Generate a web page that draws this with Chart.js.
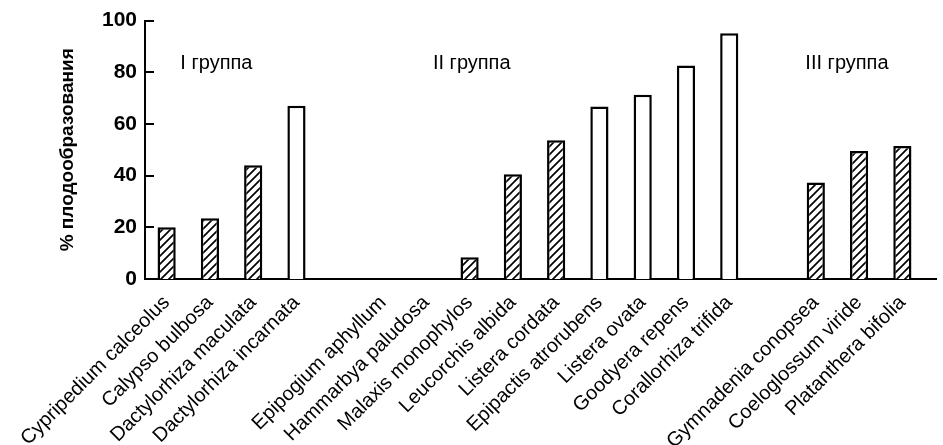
<!DOCTYPE html>
<html><head><meta charset="utf-8">
<style>html,body{margin:0;padding:0;background:#fff;overflow:hidden}#wrap{width:943px;height:445px;position:relative}</style>
<script src="https://cdn.jsdelivr.net/npm/chart.js@4.4.1/dist/chart.umd.min.js"></script>
</head><body><div id="wrap"><canvas id="c"></canvas></div>
<script>
const categories = ["Cypripedium calceolus","Calypso bulbosa","Dactylorhiza maculata","Dactylorhiza incarnata","",
  "Epipogium aphyllum","Hammarbya paludosa","Malaxis monophylos","Leucorchis albida","Listera cordata",
  "Epipactis atrorubens","Listera ovata","Goodyera repens","Corallorhiza trifida","",
  "Gymnadenia conopsea","Coeloglossum viride","Platanthera bifolia"];
const fruitSet = [20, 23.5, 44, 67, null, 0, 0, 8.4, 40.5, 53.7, 66.8, 71.3, 82.6, 95.1, null, 37.3, 49.5, 51.5];
const hatched = [true, true, true, false, false, false, false, true, true, true, false, false, false, false, false, true, true, true];
const yTicks = [0, 20, 40, 60, 80, 100];
const groupLabels = ["I группа", "II группа", "III группа"];
const yTitle = "% плодообразования";

const FONT = "'Liberation Sans', Arial, Helvetica, sans-serif";
Chart.defaults.font.family = FONT;
Chart.defaults.color = '#000';

function makeHatch() {
  const s = 8, c = document.createElement('canvas');
  c.width = s; c.height = s;
  const g = c.getContext('2d');
  g.fillStyle = '#fff'; g.fillRect(0, 0, s, s);
  g.strokeStyle = '#000'; g.lineWidth = 1.7; g.lineCap = 'square';
  g.beginPath();
  g.moveTo(-1, s + 1); g.lineTo(s + 1, -1);
  g.moveTo(-1, 1); g.lineTo(1, -1);
  g.moveTo(s - 1, s + 1); g.lineTo(s + 1, s - 1);
  g.stroke();
  return g.createPattern(c, 'repeat');
}
const hatch = makeHatch();
const fills = hatched.map(h => h ? hatch : '#fff');

const decor = {
  id: 'decor',
  afterDraw(chart) {
    const {ctx, chartArea, scales: {x, y}} = chart;
    ctx.save();
    ctx.strokeStyle = '#000';
    ctx.lineWidth = 2;
    // inward y ticks
    yTicks.forEach(v => {
      const py = Math.round(y.getPixelForValue(v));
      ctx.beginPath();
      ctx.moveTo(chartArea.left, py);
      ctx.lineTo(chartArea.left + 9, py);
      ctx.stroke();
    });
    // baseline continues slightly past last slot
    const by = y.getPixelForValue(0);
    ctx.beginPath();
    ctx.moveTo(chartArea.right - 1, by);
    ctx.lineTo(chartArea.right + 13, by);
    ctx.stroke();
    // group labels
    ctx.fillStyle = '#000';
    ctx.font = "20px " + FONT;
    ctx.textAlign = 'center';
    ctx.textBaseline = 'middle';
    const anchors = [1.15, 7.05, 15.72];
    groupLabels.forEach((t, i) => {
      ctx.fillText(t, x.getPixelForValue(anchors[i]), y.getPixelForValue(83.5));
    });
    ctx.restore();
  }
};

new Chart(document.getElementById('c'), {
  type: 'bar',
  data: {
    labels: categories,
    datasets: [{
      data: fruitSet,
      backgroundColor: fills,
      borderColor: '#000',
      borderWidth: 2.5,
      borderSkipped: 'start',
      categoryPercentage: 1,
      barPercentage: 0.42
    }]
  },
  options: {
    responsive: true,
    maintainAspectRatio: false,
    animation: false,
    layout: {padding: {top: 19, right: 19, left: 0, bottom: 0}},
    plugins: {legend: {display: false}, tooltip: {enabled: false}},
    scales: {
      x: {
        grid: {display: false, drawTicks: false},
        border: {display: true, color: '#000', width: 2},
        ticks: {
          autoSkip: false, minRotation: 45, maxRotation: 45, padding: 12,
          font: {size: 20}, color: '#000'
        },
        afterFit(s) { s.height = 166; }
      },
      y: {
        min: 0, max: 100,
        grid: {display: false, drawTicks: false},
        border: {display: true, color: '#000', width: 2},
        afterBuildTicks(s) { s.ticks = yTicks.map(v => ({value: v})); },
        ticks: {padding: 8, font: {size: 21, weight: 'bold'}, color: '#000'},
        title: {display: true, text: yTitle, font: {size: 19, weight: 'bold'}, color: '#000', padding: {top: 56, bottom: 0}},
        afterFit(s) { s.width = 145; }
      }
    }
  },
  plugins: [decor]
});
</script>
</body></html>
